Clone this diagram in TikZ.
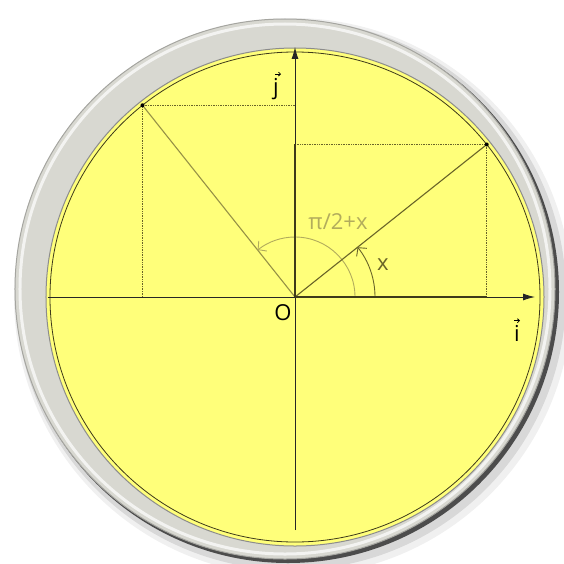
\documentclass[tikz,border=0pt]{standalone}
\usepackage{fontspec}
\setmainfont{Open Sans}
\usetikzlibrary{arrows.meta, calc}
\definecolor{ringgray}{RGB}{216,216,209}
\definecolor{ringedge}{RGB}{165,165,160}
\definecolor{lemon}{RGB}{255,255,122}
\definecolor{oliveA}{RGB}{62,58,26}
\definecolor{oliveB}{RGB}{105,100,40}
\definecolor{oliveC}{RGB}{150,145,70}
\definecolor{oliveD}{RGB}{178,172,92}
\tikzset{axis/.style={line width=0.9pt, draw=black!85, -{Latex[length=12pt,width=7pt]}},
projline/.style={line width=2.6pt, draw=oliveA},
ray/.style={line width=1.1pt, draw=oliveB},
rayfaint/.style={line width=1.1pt, draw=oliveC},
guide/.style={densely dotted, line width=0.7pt, draw=oliveB},
angarc/.style={line width=0.9pt, -{Straight Barb[length=6pt,width=13pt]}},
vecmark/.style={line width=0.8pt, -{Straight Barb[length=2pt,width=4pt]}},
lbl/.style={font=\fontsize{22}{26}\selectfont, inner sep=1pt},
tip/.style={circle, fill=black, inner sep=0pt, minimum size=4pt}}

\begin{document}
\begin{tikzpicture}[x=1pt, y=1pt]
  \useasboundingbox (-295,-266) rectangle (269,297);
  \coordinate (O) at (0,0);
  \coordinate (P) at (38.5:245);
  \coordinate (Q) at (128.5:245);
  \coordinate (Px) at (P |- O);
  \coordinate (Py) at (P -| O);
  \coordinate (Qx) at (Q |- O);
  \coordinate (Qy) at (Q -| O);
  \coordinate (iend) at (240,0);
  \coordinate (istart) at (-247,0);
  \coordinate (jend) at (0,250);
  \coordinate (jstart) at (0,-233);
  \fill[black, opacity=0.06] (-2,0) circle[radius=279];
  \fill[black, opacity=0.10] (-4,2) circle[radius=275];
  \fill[black!70] (-7,5) circle[radius=271];
  \fill[ringgray, draw=ringedge, line width=1pt] (-10,8) circle[radius=270];
  \draw[white, opacity=0.7, line width=3pt] (-10,8) circle[radius=265];
  \fill[lemon, draw=black!45, line width=1pt] (O) circle[radius=249];
  \draw[oliveA, line width=0.8pt] (O) circle[radius=245];
  \draw[guide] (Py) -- (P) -- (Px);
  \draw[guide] (Qy) -- (Q) -- (Qx);
  \draw[rayfaint] (O) -- (Q);
  \draw[angarc, oliveD] ($(O)+(0:60)$) arc[start angle=0, end angle=128.5, radius=60];
  \draw[angarc, oliveB] ($(O)+(0:80)$) arc[start angle=0, end angle=38.5, radius=80];
  \draw[ray] (O) -- (P);
  \draw[axis] (istart) -- (iend);
  \draw[axis] (jstart) -- (jend);
  \draw[projline] (O) -- (Px);
  \draw[projline] (O) -- (Py);
  \node[tip] at (P) {};
  \node[tip] at (Q) {};
  \node[lbl] (lO) at (-12,-16) {O};
  \node[lbl] (li) at (222,-36) {i};
  \node[lbl] (lj) at (-19,208) {j};
  \draw[vecmark] ($(li.north)+(-3,3)$) -- ++(6,0);
  \draw[vecmark] ($(lj.north)+(-1,3)$) -- ++(6,0);
  \node[lbl, text=oliveD] (lpi) at (43,75) {π/2+x};
  \node[lbl, text=oliveB] (lx) at (88,32) {x};
\end{tikzpicture}
\end{document}
